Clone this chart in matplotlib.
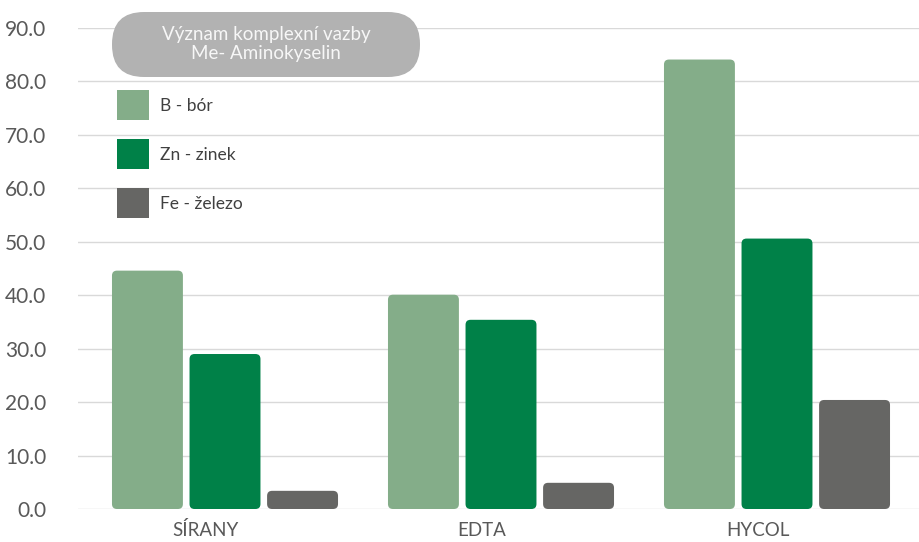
import matplotlib
matplotlib.use("Agg")
import matplotlib.pyplot as plt
from matplotlib.patches import FancyBboxPatch, Patch
from matplotlib.transforms import IdentityTransform, ScaledTranslation
import numpy as np

categories = ["SÍRANY", "EDTA", "HYCOL"]
boron = [44.6, 40.1, 84.1]
zinc = [29.0, 35.4, 50.6]
iron = [3.4, 4.9, 20.4]
series_labels = ["B - bór", "Zn - zinek", "Fe - železo"]
colors = ["#84ad89", "#008148", "#666664"]
yticks = [0, 10, 20, 30, 40, 50, 60, 70, 80, 90]
legend_title = "Význam komplexní vazby\nMe- Aminokyselin"

plt.rcParams['font.family'] = ['Lato', 'DejaVu Sans']

W, H = 920, 542
fig = plt.figure(figsize=(W/100, H/100), dpi=100)
ax = fig.add_axes([78/W, (H-509)/H, (920-78)/W, (509-28)/H])

x = np.arange(len(categories))
step = 0.281
width = 0.257
series = [boron, zinc, iron]
xpx = 276.0
ax.set_xlim((78-225)/xpx, (920-225)/xpx)
ax.set_ylim(0, 90)

ypx = (509-28)/90.0
aspect = xpx/ypx
r = 5/xpx

for i, (vals, c) in enumerate(zip(series, colors)):
    bars = ax.bar(x + (i-1)*step, vals, width, color=c, alpha=0)
    for b in bars:
        p = FancyBboxPatch((b.get_x(), b.get_y()), b.get_width(), b.get_height(),
                           boxstyle=f"round,pad=0,rounding_size={r}",
                           mutation_aspect=aspect, facecolor=c, edgecolor='none', zorder=3)
        ax.add_patch(p)

ax.set_yticks(yticks)
ax.set_yticklabels([f"{v:.1f}" for v in yticks])
ax.set_xticks(x)
ax.set_xticklabels(categories)
ax.tick_params(axis='y', length=0, labelsize=15, labelcolor='#595959', pad=23)
ax.tick_params(axis='x', length=0, labelsize=13.5, labelcolor='#595959', pad=9)
shift = ScaledTranslation(-0.19, 0, fig.dpi_scale_trans)
for lbl in ax.get_xticklabels():
    lbl.set_transform(lbl.get_transform() + shift)
ax.grid(axis='y', color='#d9d9d9', linewidth=1, zorder=0)
ax.set_axisbelow(True)
for s in ax.spines.values():
    s.set_visible(False)

# legend pill (pixel coordinates)
pill = FancyBboxPatch((112, H-77), 420-112, 77-12,
                      boxstyle="round,pad=0,rounding_size=32",
                      transform=IdentityTransform(), facecolor='#b2b2b2',
                      edgecolor='none', zorder=5)
fig.patches.append(pill)
fig.text(266/W, (H-44)/H, legend_title, ha='center', va='center',
         color='#f7f7f7', fontsize=13.5, linespacing=1.1, zorder=6)

handles = [Patch(facecolor=c, edgecolor='none') for c in colors]
leg = fig.legend(handles, series_labels, loc='upper left',
                 bbox_to_anchor=(112/W, (H-85)/H), bbox_transform=fig.transFigure,
                 frameon=False, fontsize=12.5, handlelength=1.84, handleheight=2.275,
                 labelspacing=1.1, handletextpad=0.6, borderaxespad=0, borderpad=0.3)
for t in leg.get_texts():
    t.set_color('#404040')

fig.savefig("out.png", dpi=100)
